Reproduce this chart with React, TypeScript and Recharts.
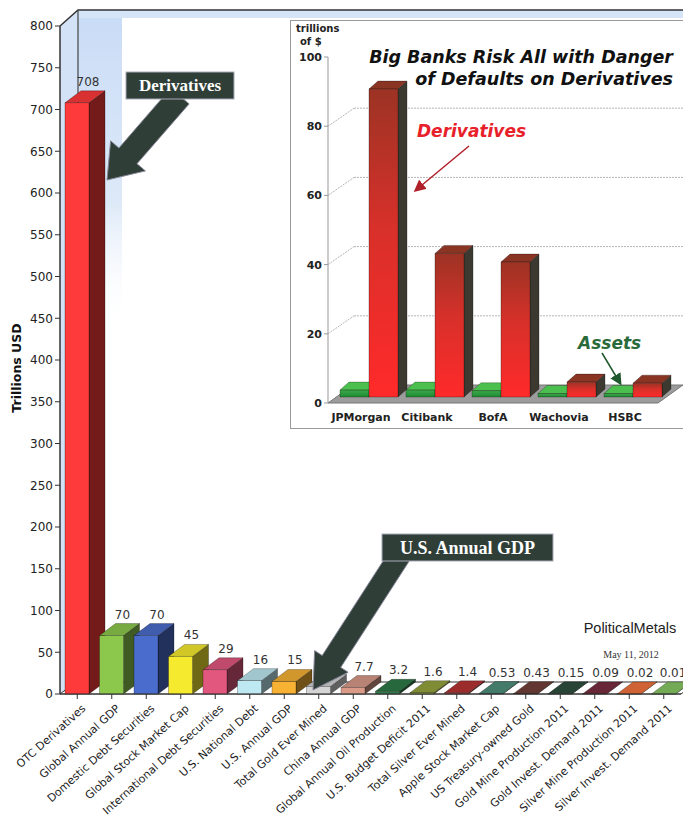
import { Bar, BarChart, CartesianGrid, Cell, LabelList, XAxis, YAxis } from "recharts";

const categories = [
  "OTC Derivatives",
  "Global Annual GDP",
  "Domestic Debt Securities",
  "Global Stock Market Cap",
  "International Debt Securities",
  "U.S. National Debt",
  "U.S. Annual GDP",
  "Total Gold Ever Mined",
  "China Annual GDP",
  "Global Annual Oil Production",
  "U.S. Budget Deficit 2011",
  "Total Silver Ever Mined",
  "Apple Stock Market Cap",
  "US Treasury-owned Gold",
  "Gold Mine Production 2011",
  "Gold Invest. Demand 2011",
  "Silver Mine Production 2011",
  "Silver Invest. Demand 2011",
];
const values = [708, 70, 70, 45, 29, 16, 15, 9, 7.7, 3.2, 1.6, 1.4, 0.53, 0.43, 0.15, 0.09, 0.02, 0.01];
const valueLabels = ["708", "70", "70", "45", "29", "16", "15", "9", "7.7", "3.2", "1.6", "1.4", "0.53", "0.43", "0.15", "0.09", "0.02", "0.01"];
const barColors = [
  "#ff3a3a", "#8cc84b", "#4a6ccc", "#f6ea2e", "#e2577e", "#bfe9f2",
  "#f7b234", "#d4d4d4", "#d99a88", "#2f7a48", "#96a53c", "#b83434",
  "#4f8f7c", "#74413a", "#2e5040", "#7a2e40", "#f5743e", "#88c864",
];
const yTicks = [0, 50, 100, 150, 200, 250, 300, 350, 400, 450, 500, 550, 600, 650, 700, 750, 800];

const banks = ["JPMorgan", "Citibank", "BofA", "Wachovia", "HSBC"];
const bankAssets = [2, 2, 1.8, 1, 1];
const bankDerivatives = [89, 41.5, 39, 4.3, 4];
const insetTicks = [0, 20, 40, 60, 80, 100];

const mainData = categories.map((name, i) => ({ name, value: values[i] }));
const bankData = banks.map((name, i) => ({ name, assets: bankAssets[i], derivatives: bankDerivatives[i] }));

function shade(hex: string, f: number) {
  const n = parseInt(hex.slice(1), 16);
  const ch = [(n >> 16) & 255, (n >> 8) & 255, n & 255].map((c) =>
    Math.round(f < 1 ? c * f : c + (255 - c) * (f - 1))
  );
  return `rgb(${ch[0]},${ch[1]},${ch[2]})`;
}

// 3d box: front face + top + right side
function Box3D(props: any) {
  const { x, y, width: w, height: h, fill, dx, dy, sx = 0, sy = 0, front, side, top } = props;
  if (x == null || y == null) return null;
  const X = x + sx;
  const Y = y + sy;
  const H = Math.max(h, 0);
  const edge = "rgba(0,0,0,0.45)";
  return (
    <g>
      <polygon
        points={`${X + w},${Y} ${X + w + dx},${Y - dy} ${X + w + dx},${Y + H - dy} ${X + w},${Y + H}`}
        fill={side ?? shade(fill, 0.45)}
        stroke={edge}
        strokeWidth={0.6}
      />
      <polygon
        points={`${X},${Y} ${X + dx},${Y - dy} ${X + w + dx},${Y - dy} ${X + w},${Y}`}
        fill={top ?? shade(fill, 0.85)}
        stroke={edge}
        strokeWidth={0.6}
      />
      <rect x={X} y={Y} width={w} height={H} fill={front ?? fill} stroke={edge} strokeWidth={0.6} />
    </g>
  );
}

function MainTick({ x, y, payload }: any) {
  return (
    <g transform={`translate(${x + 5},${y + 4})`}>
      <text
        x={0}
        y={0}
        dy={6}
        textAnchor="end"
        transform="rotate(-42)"
        fontSize={11}
        fill="#222"
        fontFamily="DejaVu Sans"
      >
        {payload.value}
      </text>
    </g>
  );
}

function arrowPoints(x1: number, y1: number, x2: number, y2: number, shaft: number, head: number, headLen: number) {
  const L = Math.hypot(x2 - x1, y2 - y1);
  const ux = (x2 - x1) / L;
  const uy = (y2 - y1) / L;
  const nx = -uy;
  const ny = ux;
  const bx = x2 - ux * headLen;
  const by = y2 - uy * headLen;
  const pts = [
    [x1 + (nx * shaft) / 2, y1 + (ny * shaft) / 2],
    [bx + (nx * shaft) / 2, by + (ny * shaft) / 2],
    [bx + (nx * head) / 2, by + (ny * head) / 2],
    [x2, y2],
    [bx - (nx * head) / 2, by - (ny * head) / 2],
    [bx - (nx * shaft) / 2, by - (ny * shaft) / 2],
    [x1 - (nx * shaft) / 2, y1 - (ny * shaft) / 2],
  ];
  return pts.map((p) => p.map((v) => v.toFixed(1)).join(",")).join(" ");
}

function Callout({ x, y, w, h, text, fontSize }: any) {
  return (
    <g>
      <rect x={x} y={y} width={w} height={h} fill="#2f3e37" stroke="#aab" strokeWidth={1} />
      <text
        x={x + w / 2}
        y={y + h / 2 + fontSize * 0.35}
        textAnchor="middle"
        fontFamily="Liberation Serif"
        fontWeight="bold"
        fontSize={fontSize}
        fill="#fff"
      >
        {text}
      </text>
    </g>
  );
}

function InsetGridLine(p: any) {
  // the 100 line sits under the title, it is not drawn in the original
  if (p.index === 0 || p.y1 < p.y + 2) return <g key={p.key} />;
  return (
    <g key={p.key}>
      <line x1={p.x1} y1={p.y1} x2={p.x1 + 26} y2={p.y1 - 18} stroke="#b5b5b5" strokeDasharray="2 1" />
      <line x1={p.x1 + 26} y1={p.y1 - 18} x2={p.x2 + 26} y2={p.y1 - 18} stroke="#b5b5b5" strokeDasharray="2 1" />
    </g>
  );
}

export default function App() {
  return (
    <div style={{ position: "relative", width: 691, height: 824, margin: -8, background: "#fff", overflow: "hidden" }}>
      {/* walls of the 3d box */}
      <svg width={691} height={824} style={{ position: "absolute", left: 0, top: 0 }}>
        <defs>
          <linearGradient id="wallBlue" x1="0" y1="0" x2="0" y2="1">
            <stop offset="0" stopColor="#c9dcf6" />
            <stop offset="0.6" stopColor="#dde9f8" />
            <stop offset="1" stopColor="#ffffff" stopOpacity={0} />
          </linearGradient>
        </defs>
        <polygon points="60,26 78,10 78,682 60,694" fill="#d3e2f6" />
        <rect x={78} y={10} width={44} height={320} fill="url(#wallBlue)" />
        <rect x={78} y={10} width={613} height={8} fill="#d6e4f7" />
        <polygon points="60,694 681,694 697,682 76,682" fill="#fff" stroke="#333" strokeWidth={1} />
        <polyline points="60,26 78,10 691,10" fill="none" stroke="#333" strokeWidth={1.5} />
        <line x1={78} y1={10} x2={78} y2={682} stroke="#444" strokeWidth={1.2} />
      </svg>

      <div style={{ position: "absolute", left: 0, top: 0 }}>
        <BarChart width={691} height={824} data={mainData} margin={{ top: 26, right: 10, left: 0, bottom: 0 }}>
          <XAxis
            dataKey="name"
            interval={0}
            height={130}
            tick={<MainTick />}
            tickSize={5}
            axisLine={{ stroke: "#333" }}
            tickLine={{ stroke: "#333" }}
          />
          <YAxis
            domain={[0, 800]}
            ticks={yTicks}
            width={60}
            interval={0}
            tickSize={5}
            tick={{ fontSize: 12, fill: "#222", fontFamily: "DejaVu Sans" }}
            axisLine={{ stroke: "#333", strokeWidth: 1.5 }}
            tickLine={{ stroke: "#333" }}
          />
          <Bar
            dataKey="value"
            barSize={24}
            isAnimationActive={false}
            shape={(p: any) => <Box3D {...p} dx={16} dy={12} />}
          >
            {mainData.map((d, i) => (
              <Cell key={d.name} fill={barColors[i]} />
            ))}
            <LabelList
              dataKey="value"
              content={(p: any) => (
                <text
                  x={Math.min(p.x + p.width / 2 + 11, 673)}
                  y={p.y - 17}
                  textAnchor="middle"
                  fontSize={12}
                  fill="#333"
                  fontFamily="DejaVu Sans"
                >
                  {valueLabels[p.index]}
                </text>
              )}
            />
          </Bar>
        </BarChart>
      </div>

      <svg width={691} height={824} style={{ position: "absolute", left: 0, top: 0, pointerEvents: "none" }}>
        <text
          transform="translate(21,368) rotate(-90)"
          textAnchor="middle"
          fontFamily="DejaVu Sans"
          fontWeight="bold"
          fontSize={12.5}
          fill="#111"
        >
          Trillions USD
        </text>
        <polygon points={arrowPoints(180, 96, 107, 180, 24, 46, 32)} fill="#2f3e37" stroke="#889" strokeWidth={1} />
        <Callout x={126} y={72} w={108} h={27} text="Derivatives" fontSize={17} />
        <polygon points={arrowPoints(402, 552, 313, 690, 22, 40, 34)} fill="#2f3e37" stroke="#889" strokeWidth={1} />
        <Callout x={382} y={534} w={171} h={27} text="U.S. Annual GDP" fontSize={18} />
        <text x={630} y={633} textAnchor="middle" fontFamily="Liberation Sans" fontSize={14.5} fill="#222">
          PoliticalMetals
        </text>
        <text x={631} y={658} textAnchor="middle" fontFamily="Liberation Serif" fontSize={10} fill="#333">
          May 11, 2012
        </text>
      </svg>

      {/* inset chart */}
      <div
        style={{
          position: "absolute",
          left: 290,
          top: 20,
          width: 392,
          height: 407,
          background: "#fff",
          border: "1px solid #9a9a9a",
        }}
      >
        <svg width={392} height={407} style={{ position: "absolute", left: 0, top: 0 }}>
          <polygon points="37,382 367,382 392,364 62,364" fill="#9c9c9c" stroke="#777" strokeWidth={1} />
        </svg>
        <div style={{ position: "absolute", left: 0, top: 0 }}>
          <BarChart
            width={392}
            height={407}
            data={bankData}
            margin={{ top: 36, right: 25, left: 0, bottom: 0 }}
            barGap={0}
          >
            <defs>
              <linearGradient id="redFront" x1="0" y1="0" x2="0" y2="1">
                <stop offset="0" stopColor="#9c3324" />
                <stop offset="0.45" stopColor="#d8302a" />
                <stop offset="1" stopColor="#ff2a2a" />
              </linearGradient>
              <linearGradient id="greenFront" x1="0" y1="0" x2="0" y2="1">
                <stop offset="0" stopColor="#3aa84a" />
                <stop offset="1" stopColor="#1f8a32" />
              </linearGradient>
            </defs>
            <CartesianGrid vertical={false} horizontal={InsetGridLine} />
            <XAxis
              dataKey="name"
              height={25}
              axisLine={false}
              tickLine={false}
              tick={{ fontSize: 11, fontWeight: "bold", fill: "#222", fontFamily: "DejaVu Sans" }}
              dy={2}
            />
            <YAxis
              domain={[0, 100]}
              ticks={insetTicks}
              width={37}
              tickSize={4}
              tick={{ fontSize: 11, fontWeight: "bold", fill: "#222", fontFamily: "DejaVu Sans" }}
              axisLine={{ stroke: "#999" }}
              tickLine={{ stroke: "#999" }}
            />
            <Bar
              dataKey="assets"
              barSize={29}
              fill="#2a9a3a"
              isAnimationActive={false}
              shape={(p: any) => (
                <Box3D {...p} dx={9} dy={8} sx={8} sy={-6} front="url(#greenFront)" top="#4cc04e" side="#1c5a2a" />
              )}
            />
            <Bar
              dataKey="derivatives"
              barSize={29}
              fill="#ff2a2a"
              isAnimationActive={false}
              shape={(p: any) => (
                <Box3D {...p} dx={9} dy={8} sx={8} sy={-6} front="url(#redFront)" top="#8a3424" side="#3c3a30" />
              )}
            />
          </BarChart>
        </div>
        <svg width={392} height={407} style={{ position: "absolute", left: 0, top: 0, pointerEvents: "none" }}>
          <defs>
            <marker id="redHead" markerWidth="8" markerHeight="8" refX="6" refY="4" orient="auto">
              <path d="M0,0 L8,4 L0,8 z" fill="#b0202a" />
            </marker>
            <marker id="greenHead" markerWidth="8" markerHeight="8" refX="6" refY="4" orient="auto">
              <path d="M0,0 L8,4 L0,8 z" fill="#1f5a2e" />
            </marker>
          </defs>
          <text x={5} y={11} fontFamily="DejaVu Sans" fontWeight="bold" fontSize={10} fill="#222">
            trillions
          </text>
          <text x={9} y={24} fontFamily="DejaVu Sans" fontWeight="bold" fontSize={10} fill="#222">
            of $
          </text>
          <text
            x={382}
            y={42}
            textAnchor="end"
            fontFamily="DejaVu Sans"
            fontWeight="bold"
            fontStyle="italic"
            fontSize={17.5}
            fill="#111"
          >
            Big Banks Risk All with Danger
          </text>
          <text
            x={382}
            y={64}
            textAnchor="end"
            fontFamily="DejaVu Sans"
            fontWeight="bold"
            fontStyle="italic"
            fontSize={17.5}
            fill="#111"
          >
            of Defaults on Derivatives
          </text>
          <text x={126} y={116} fontFamily="DejaVu Sans" fontWeight="bold" fontStyle="italic" fontSize={17} fill="#e8202a">
            Derivatives
          </text>
          <line x1={178} y1={125} x2={125} y2={169} stroke="#b0202a" strokeWidth={1.5} markerEnd="url(#redHead)" />
          <text x={287} y={328} fontFamily="DejaVu Sans" fontWeight="bold" fontStyle="italic" fontSize={17} fill="#2a6a3a">
            Assets
          </text>
          <line x1={311} y1={332} x2={329} y2={362} stroke="#1f5a2e" strokeWidth={1.5} markerEnd="url(#greenHead)" />
        </svg>
      </div>
    </div>
  );
}
